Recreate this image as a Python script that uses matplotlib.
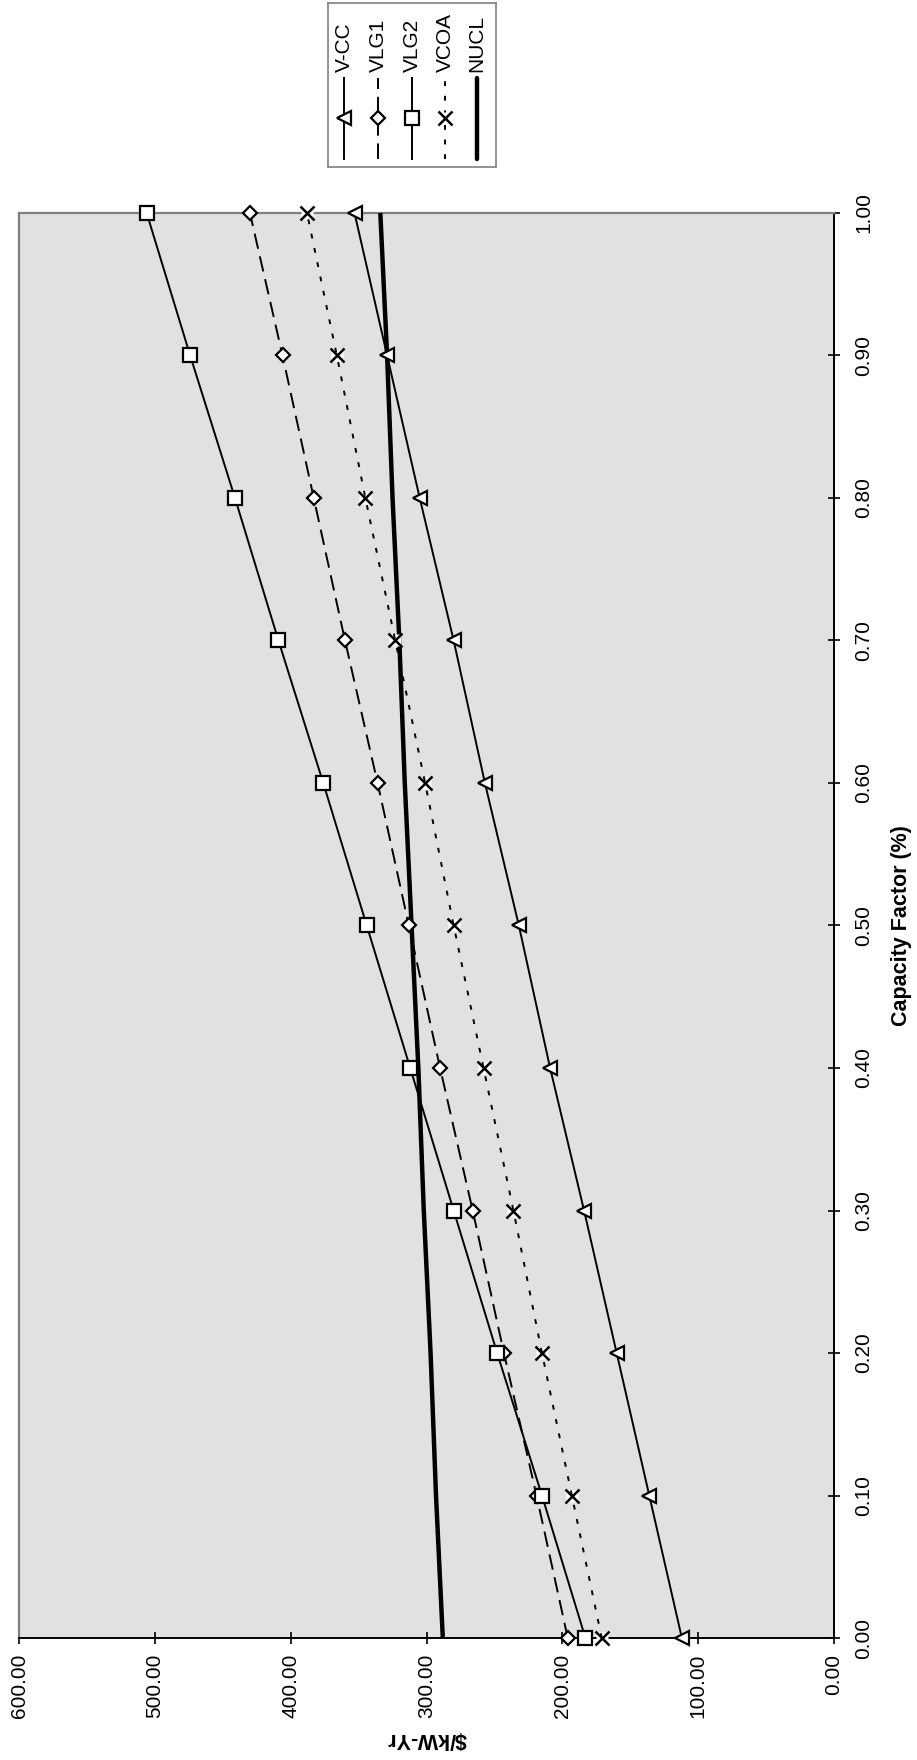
import numpy as np
import matplotlib
matplotlib.use('Agg')
import matplotlib.pyplot as plt
from matplotlib.lines import Line2D

# chart is drawn rotated: cost runs along the horizontal axis (600 -> 0),
# capacity factor runs up the right hand side
cap_factor = [0.00, 0.10, 0.20, 0.30, 0.40, 0.50, 0.60, 0.70, 0.80, 0.90, 1.00]

v_cc = [112, 136, 160, 184, 209, 232, 257, 280, 305, 329, 353]
vlg1 = [196, 219, 243, 266, 290, 313, 336, 360, 383, 406, 430]
vlg2 = [183, 215, 248, 280, 312, 344, 376, 409, 441, 474, 506]
vcoa = [171, 193, 215, 236, 258, 280, 301, 323, 345, 366, 388]
nucl = [288, 293, 297, 302, 306, 311, 316, 320, 325, 329, 334]

series_names = ['V-CC', 'VLG1', 'VLG2', 'VCOA', 'NUCL']

cost_ticks = [0, 100, 200, 300, 400, 500, 600]
cf_ticks = [0.0, 0.1, 0.2, 0.3, 0.4, 0.5, 0.6, 0.7, 0.8, 0.9, 1.0]

plt.rcParams['font.family'] = ['Liberation Sans', 'DejaVu Sans']

W, H = 917, 1760
fig = plt.figure(figsize=(W/100, H/100), dpi=100)

#plot area in pixels
x0, x1 = 19, 834
y_top, y_bot = 213, 1638
ax = fig.add_axes([x0/W, 1 - y_bot/H, (x1 - x0)/W, (y_bot - y_top)/H])
ax.set_facecolor('#e1e1e1')

#line styles for each series
styles = {
	'V-CC': dict(color='black', lw=1.4, ls='-', marker='<', ms=9.5, mfc='white', mec='black', mew=1.6),
	'VLG1': dict(color='black', lw=1.4, ls=(0, (8, 4)), marker='D', ms=7, mfc='white', mec='black', mew=1.6),
	'VLG2': dict(color='black', lw=1.4, ls='-', marker='s', ms=10, mfc='white', mec='black', mew=1.6),
	'VCOA': dict(color='black', lw=1.4, ls=(0, (2.5, 5)), marker='x', ms=10, mfc='white', mec='black', mew=1.8),
	'NUCL': dict(color='black', lw=3.2, ls='-', marker=None),
}
values = {'V-CC': v_cc, 'VLG1': vlg1, 'VLG2': vlg2, 'VCOA': vcoa, 'NUCL': nucl}

#NUCL first so the markers sit on top of it
ax.plot(nucl, cap_factor, clip_on=False, zorder=3, solid_capstyle='butt', **styles['NUCL'])

#white backing behind the x markers
ax.plot(vcoa, cap_factor, ls='none', marker='s', ms=8.5, mfc='white', mec='none', clip_on=False, zorder=4)

for name in ['V-CC', 'VLG1', 'VLG2', 'VCOA']:
	ax.plot(values[name], cap_factor, clip_on=False, zorder=5, **styles[name])

ax.set_xlim(600, 0)
ax.set_ylim(0, 1)
ax.set_xticks(cost_ticks)
ax.set_xticklabels(['%.2f' % v for v in cost_ticks], rotation=90)
ax.yaxis.tick_right()
ax.set_yticks(cf_ticks)
ax.set_yticklabels(['%.2f' % v for v in cf_ticks], rotation=90, va='center')

ax.tick_params(axis='x', direction='inout', length=9, width=1.2, labelsize=15, pad=7)
ax.tick_params(axis='y', direction='inout', length=9, width=1.2, labelsize=15, pad=10)

for side in ['left', 'top']:
	ax.spines[side].set_color('#808080')
	ax.spines[side].set_linewidth(1.6)
for side in ['bottom', 'right']:
	ax.spines[side].set_color('black')
	ax.spines[side].set_linewidth(1.4)

#axis titles
fig.text((x0 + x1)/2/W, 1 - 1738/H, '$/kW-Yr', rotation=180, ha='center', va='center',
	fontsize=15.5, fontweight='bold', parse_math=False)
fig.text(902/W, 1 - (y_top + y_bot)/2/H, 'Capacity Factor (%)', rotation=90, ha='center', va='center',
	fontsize=15.5, fontweight='bold')

#legend, built by hand since the text runs sideways
lx0, lx1, ly0, ly1 = 328, 496, 3, 167
lax = fig.add_axes([lx0/W, 1 - ly1/H, (lx1 - lx0)/W, (ly1 - ly0)/H])
lax.set_xlim(0, 1)
lax.set_ylim(0, 1)
lax.set_xticks([])
lax.set_yticks([])
lax.set_facecolor('white')
for sp in lax.spines.values():
	sp.set_color('#808080')
	sp.set_linewidth(1.2)

col_x = [0.095, 0.298, 0.5, 0.696, 0.885]
for i, name in enumerate(series_names):
	st = dict(styles[name])
	marker = st.pop('marker')
	cx = col_x[i]
	if name == 'NUCL':
		lax.add_line(Line2D([cx, cx], [0.05, 0.545], solid_capstyle='round', **st))
	else:
		lax.add_line(Line2D([cx, cx], [0.05, 0.545], **{k: v for k, v in st.items() if k in ('color', 'lw', 'ls')}))
		if name == 'VCOA':
			lax.plot([cx], [0.3], ls='none', marker='s', ms=8.5, mfc='white', mec='none')
		lax.plot([cx], [0.3], ls='none', marker=marker, ms=st['ms'], mfc=st['mfc'], mec=st['mec'], mew=st['mew'])
	lax.text(cx, 0.58, name, rotation=90, ha='center', va='bottom', fontsize=15)

fig.savefig('out.png', dpi=100)
